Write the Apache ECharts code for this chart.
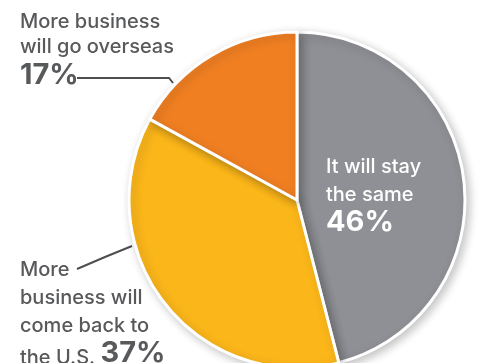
<!DOCTYPE html>
<html>
<head>
<meta charset="utf-8">
<script src="https://cdn.jsdelivr.net/npm/echarts@6/dist/echarts.min.js"></script>
<style>
  html, body { margin: 0; padding: 0; background: #ffffff; }
  #chart { width: 482px; height: 363px; }
</style>
</head>
<body>
<div id="chart"></div>
<script>
// Survey answers: where will business go?
const categories = ['It will stay the same', 'More business will come back to the U.S.', 'More business will go overseas'];
const shares = [46, 37, 17];
// How each answer's caption is broken over lines
const captionLines = [
  ['It will stay', 'the same'],
  ['More', 'business will', 'come back to', 'the U.S.'],
  ['More business', 'will go overseas']
];

const sliceColors = ['#8f9095', '#fbb61a', '#f07f22'];
const FONT = 'Inter, sans-serif';

const chart = echarts.init(document.getElementById('chart'), null, { renderer: 'canvas' });

function caption(idx, value) {
  const lines = captionLines[idx];
  if (idx === 1) {
    // percentage sits on the last caption line
    const head = lines.slice(0, -1).map(l => '{t|' + l + '}').join('\n');
    return head + '\n{tb|' + lines[lines.length - 1] + ' }{pb|' + value + '%}';
  }
  return lines.map(l => '{t|' + l + '}').join('\n') + '\n{p|' + value + '%}';
}

function richFor(color, lh, plh) {
  return {
    t: { fontFamily: FONT, fontSize: 20, fontWeight: 500, color: color, lineHeight: lh },
    p: { fontFamily: FONT, fontSize: 29, fontWeight: 'bold', color: color, lineHeight: plh },
    tb: { fontFamily: FONT, fontSize: 20, fontWeight: 500, color: color, lineHeight: lh, verticalAlign: 'bottom' },
    pb: { fontFamily: FONT, fontSize: 29, fontWeight: 'bold', color: color, lineHeight: lh, verticalAlign: 'bottom' }
  };
}

const labelSpots = [
  { x: 326, y: 153, lh: 28, plh: 26, color: '#ffffff', line: null },
  { x: 20, y: 256, lh: 28, plh: 28, color: '#58595b', line: [[132, 246], [105, 257], [77, 269]] },
  { x: 20, y: 9, lh: 25, plh: 33, color: '#58595b', line: [[173, 83], [169, 78], [77, 78]] }
];

const data = categories.map((name, i) => ({
  name: name,
  value: shares[i],
  itemStyle: { color: sliceColors[i] },
  label: {
    show: true,
    overflow: 'none',
    width: 300,
    formatter: p => caption(p.dataIndex, p.value),
    rich: richFor(labelSpots[i].color, labelSpots[i].lh, labelSpots[i].plh)
  },
  labelLine: {
    show: labelSpots[i].line !== null,
    lineStyle: { color: '#4d4e50', width: 2 }
  }
}));

chart.setOption({
  animation: false,
  backgroundColor: '#ffffff',
  series: [{
    type: 'pie',
    center: [297, 200],
    radius: 168,
    startAngle: 90,
    clockwise: true,
    silent: true,
    avoidLabelOverlap: false,
    data: data,
    itemStyle: {
      borderColor: '#ffffff',
      borderWidth: 3,
      shadowBlur: 10,
      shadowColor: 'rgba(0,0,0,0.22)',
      shadowOffsetX: 3,
      shadowOffsetY: 3
    },
    label: { position: 'outside', overflow: 'none' },
    labelLayout: function (params) {
      const spot = labelSpots[params.dataIndex];
      const out = { x: spot.x, y: spot.y, align: 'left', verticalAlign: 'top', hideOverlap: false };
      if (spot.line) out.labelLinePoints = spot.line;
      return out;
    }
  }]
});
</script>
</body>
</html>
